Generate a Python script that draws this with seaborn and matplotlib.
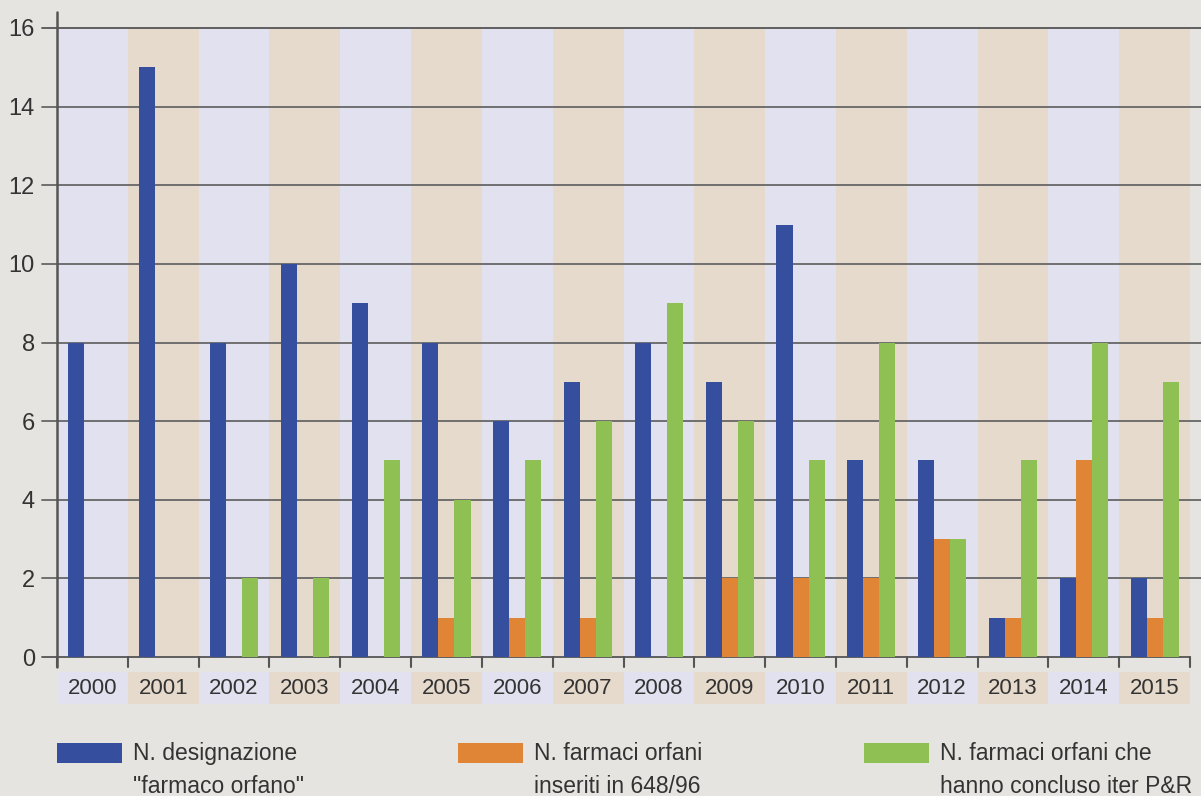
import pandas as pd
import matplotlib.pyplot as plt
import matplotlib.transforms as mtransforms
from matplotlib.patches import Rectangle
import seaborn as sns

# Data
years = [str(y) for y in range(2000, 2016)]
designazioni = [8, 15, 8, 10, 9, 8, 6, 7, 8, 7, 11, 5, 5, 1, 2, 2]
inseriti_648 = [0, 0, 0, 0, 0, 1, 1, 1, 0, 2, 2, 2, 3, 1, 5, 1]
concluso_pr = [0, 0, 2, 2, 5, 4, 5, 6, 9, 6, 5, 8, 3, 5, 8, 7]
series_names = ['N. designazione\n"farmaco orfano"',
                'N. farmaci orfani\ninseriti in 648/96',
                'N. farmaci orfani che\nhanno concluso iter P&R']
colors = ['#354e9e', '#e08435', '#8fc053']
yticks = [0, 2, 4, 6, 8, 10, 12, 14, 16]

df = pd.DataFrame({
    'anno': years * 3,
    'valore': designazioni + inseriti_648 + concluso_pr,
    'serie': [series_names[0]] * 16 + [series_names[1]] * 16 + [series_names[2]] * 16,
})

sns.set_theme(style='white')
plt.rcParams['font.family'] = ['Liberation Sans Narrow', 'Liberation Sans', 'DejaVu Sans']

bg = '#e6e4e0'
band_a = '#e2e1f0'
band_b = '#e6dacd'
line_c = '#555555'
text_c = '#333333'

fig = plt.figure(figsize=(12.01, 7.96), dpi=100, facecolor=bg)
ax = fig.add_axes([57 / 1201, 139 / 796, 1133 / 1201, 629 / 796])
ax.set_facecolor('none')

sns.barplot(data=df, x='anno', y='valore', hue='serie', palette=colors,
            width=0.68, gap=0, saturation=1, legend=False, ax=ax, zorder=3,
            linewidth=0, edgecolor='none')

ax.set_xlim(-0.5, len(years) - 0.5)
ax.set_ylim(0, 16)

# alternating background bands + label boxes under the axis
trans = mtransforms.blended_transform_factory(ax.transData, ax.transAxes)
for i, yr in enumerate(years):
    c = band_a if i % 2 == 0 else band_b
    ax.add_patch(Rectangle((i - 0.5, 0), 1, 16, facecolor=c, edgecolor='none', zorder=0))
    ax.add_patch(Rectangle((i - 0.5, -0.0747), 1, 0.0509, transform=trans,
                           facecolor=c, edgecolor='none', clip_on=False, zorder=0))
    ax.text(i, -0.0493, yr, transform=trans, ha='center', va='center',
            fontsize=16, color=text_c)

# category tick marks below the zero line
for i in range(len(years) + 1):
    ax.plot([i - 0.5, i - 0.5], [0, -0.016], transform=trans, color=line_c,
            lw=1.5, clip_on=False, zorder=4)

# horizontal grid lines extending left (tick) and right past the bands
htrans = mtransforms.blended_transform_factory(ax.transAxes, ax.transData)
for v in yticks:
    right = 1.0 if v == 0 else 1144 / 1133
    ax.plot([-15 / 1133, right], [v, v], transform=htrans,
            color=line_c if v in (0, 16) else '#666666', lw=1.3,
            clip_on=False, zorder=2)

# left axis line
ax.plot([0, 0], [-0.016, 1.025], transform=ax.transAxes, color=line_c, lw=1.8,
        clip_on=False, zorder=4)

sns.despine(ax=ax, left=True, bottom=True)
ax.set_xticks([])
ax.set_yticks(yticks)
ax.set_yticklabels([str(v) for v in yticks], fontsize=17, color=text_c)
ax.tick_params(axis='y', length=0, pad=16)
ax.set_xlabel('')
ax.set_ylabel('')

# legend at the bottom
legend_x = [57, 458, 864]
for x0, name, c in zip(legend_x, series_names, colors):
    fig.patches.append(Rectangle((x0 / 1201, (796 - 763) / 796), 65 / 1201, 20 / 796,
                                 transform=fig.transFigure, facecolor=c,
                                 edgecolor='none'))
    fig.text((x0 + 76) / 1201, (796 - 770) / 796, name, ha='left', va='center',
             fontsize=16.5, color=text_c, linespacing=1.55)

fig.savefig('out.png', dpi=100, facecolor=bg)
